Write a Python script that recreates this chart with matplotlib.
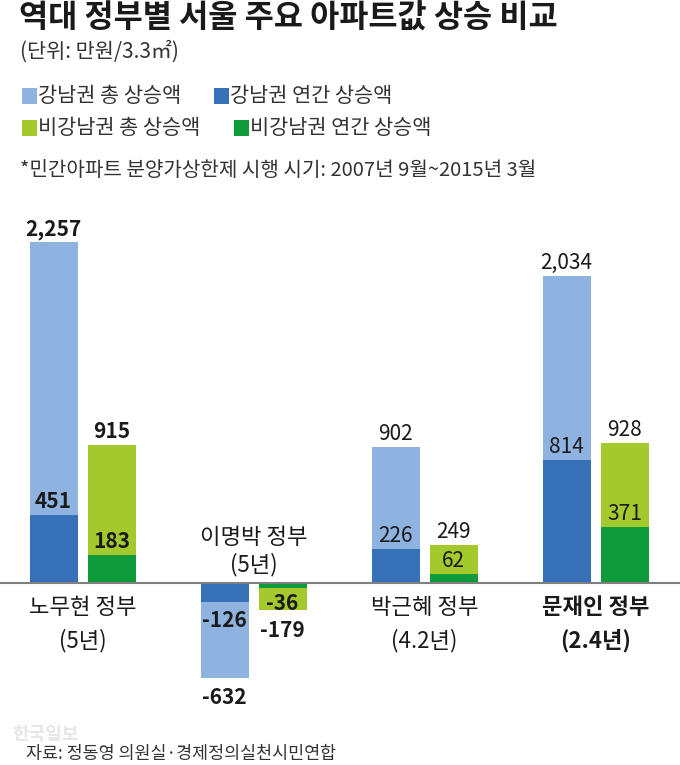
import matplotlib
matplotlib.use('Agg')
import matplotlib.pyplot as plt
import numpy as np
from matplotlib.patches import Rectangle

plt.rcParams['font.family'] = ['Noto Sans CJK KR', 'DejaVu Sans']

# ---- data ----
governments = ['노무현 정부', '이명박 정부', '박근혜 정부', '문재인 정부']
terms = ['(5년)', '(5년)', '(4.2년)', '(2.4년)']
gangnam_total = [2257, -632, 902, 2034]
gangnam_annual = [451, -126, 226, 814]
others_total = [915, -179, 249, 928]
others_annual = [183, -36, 62, 371]
legend_labels = ['강남권 총 상승액', '강남권 연간 상승액', '비강남권 총 상승액', '비강남권 연간 상승액']
title = '역대 정부별 서울 주요 아파트값 상승 비교'
subtitle = '(단위: 만원/3.3㎡)'
footnote = '*민간아파트 분양가상한제 시행 시기: 2007년 9월~2015년 3월'
source = '자료: 정동영 의원실·경제정의실천시민연합'
watermark = '한국일보'

colors = ['#8FB3E0', '#3670B7', '#A3C92D', '#0F9A3B']
text_color = '#1a1a1a'

W, H = 680, 765
fig = plt.figure(figsize=(6.8, 7.65), dpi=100)
fig.patch.set_facecolor('white')


def fx(x):
    return x / W


def fy(y):
    return 1 - y / H


# ---- header ----
fig.text(fx(19), fy(19), title, fontsize=22.8, fontweight='bold', color=text_color, va='center', ha='left')
fig.text(fx(20), fy(52), subtitle, fontsize=15, color='#333333', va='center', ha='left')

legend_pos = [(22, 96), (214, 96), (22, 128), (234, 128)]
for (lx, ly), lab, col in zip(legend_pos, legend_labels, colors):
    fig.patches.append(Rectangle((fx(lx), fy(ly + 7.5)), 15 / W, 15 / H, transform=fig.transFigure,
                                 facecolor=col, edgecolor='none'))
    fig.text(fx(lx + 16), fy(ly), lab, fontsize=15, color='#333333', va='center', ha='left')

fig.text(fx(20), fy(171), footnote, fontsize=14.5, color='#333333', va='center', ha='left')

fig.text(fx(12), fy(734), watermark, fontsize=13, fontweight='bold', color='#e6e6e6', va='center', ha='left')
fig.text(fx(26), fy(754), source, fontsize=12.5, color='#333333', va='center', ha='left')

# ---- chart ----
ax_top_px, ax_bot_px = 200, 720
ax = fig.add_axes([0, fy(ax_bot_px), 1, (ax_bot_px - ax_top_px) / H])
spacing = 171.0
c0 = 82.5
ax.set_xlim(-c0 / spacing, (W - c0) / spacing)
scale = 0.151
base = 583
ax.set_ylim(-(ax_bot_px - base) / scale, (base - ax_top_px) / scale)
ax.axis('off')

x = np.arange(len(governments))
off = 29 / spacing
bw = 48 / spacing

ax.bar(x - off, gangnam_total, bw, color=colors[0], zorder=2)
ax.bar(x - off, gangnam_annual, bw, color=colors[1], zorder=3)
ax.bar(x + off, others_total, bw, color=colors[2], zorder=2)
ax.bar(x + off, others_annual, bw, color=colors[3], zorder=3)
ax.axhline(0, color='#808080', lw=1.5, zorder=4)

weights = ['bold', 'bold', 'medium', 'medium']


def label(xp, v, w, neg_gap=10):
    s = f'{v:,}'
    if v >= 0:
        ax.annotate(s, (xp, v), xytext=(0, 7), textcoords='offset pixels', ha='center', va='baseline',
                    fontsize=15, fontweight=w, color=text_color, zorder=5)
    else:
        ax.annotate(s, (xp, v), xytext=(0, -neg_gap), textcoords='offset pixels', ha='center', va='top',
                    fontsize=15, fontweight=w, color=text_color, zorder=5)


for i in range(len(governments)):
    w = weights[i]
    label(x[i] - off, gangnam_total[i], w, 9)
    label(x[i] - off, gangnam_annual[i], w, 8)
    label(x[i] + off, others_total[i], w, 10)
    label(x[i] + off, others_annual[i], w, 5)

# category labels
for i, (g, t) in enumerate(zip(governments, terms)):
    w = 'bold' if i == 3 else 'normal'
    if gangnam_total[i] < 0:
        y1, y2 = 46, 18
    else:
        y1, y2 = -25, -58
    ax.annotate(g, (x[i], 0), xytext=(0, y1), textcoords='offset pixels', ha='center', va='center',
                fontsize=16, fontweight=w, color=text_color, zorder=5)
    ax.annotate(t, (x[i], 0), xytext=(0, y2), textcoords='offset pixels', ha='center', va='center',
                fontsize=16, fontweight=w, color=text_color, zorder=5)

fig.savefig('out.png', dpi=100, facecolor='white')
